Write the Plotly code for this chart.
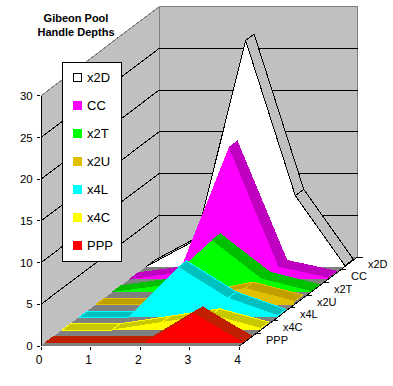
import plotly.graph_objects as go

TITLE = "Gibeon Pool<br>Handle Depths"
divisions = [0, 1, 2, 3, 4]
quantity_ticks = [0, 5, 10, 15, 20, 25, 30]
grid_levels = [5, 10, 15, 20, 25]

# front to back
types = ["PPP", "x4C", "x4L", "x2U", "x2T", "CC", "x2D"]
PPP = [0, 0, 0, 3.55, 0]
x4C = [0, 0, 0.9, 1.8, 0.2]
x4L = [0, 0, 6.0, 2.3, 0.2]
x2U = [0, 0, 0.8, 1.95, 0.4]
x2T = [0, 0.8, 6.2, 1.6, 0.1]
CC = [0, 0.8, 15.8, 1.5, 0.2]
x2D = [0, 3.2, 27.1, 8.5, 0.1]
series_values = [PPP, x4C, x4L, x2U, x2T, CC, x2D]

face_colors = ["#ff0000", "#ffff00", "#00ffff", "#e0c000", "#00ff00", "#ff00ff", "#ffffff"]
top_colors = ["#c02000", "#c8c800", "#00c0c0", "#c0a000", "#00c000", "#c000c0", "#c0c0c0"]
top_edges = ["#c02000", "#ffff00", "#00ffff", "#e0c000", "#00c000", "#c000c0", "#000000"]

W, H = 393, 386
L, B = 41, 40
PX_X, PX_Y = 49.65, 8.34           # pixels per data unit
DEPTH_X, DEPTH_Y = 118 / PX_X, 89 / PX_Y   # full-depth shear in data units
FRONT, BACK = 0.25, 0.75           # ribbon position inside its depth slot
N = len(types)


def proj(x, y, d):
    return x + DEPTH_X * d, y + DEPTH_Y * d


def path(points):
    xs, ys = [], []
    for p in points:
        if p is None:
            xs.append(None)
            ys.append(None)
        else:
            a, b = proj(*p)
            xs.append(a)
            ys.append(b)
    return xs, ys


fig = go.Figure()


def poly(points, fill, line=None, width=1):
    xs, ys = path(points)
    fig.add_trace(go.Scatter(
        x=xs, y=ys, mode="lines", fill="toself", fillcolor=fill,
        line=dict(color=line or fill, width=width if line else 0),
        hoverinfo="skip", showlegend=False, cliponaxis=False))


def stroke(points, color="#000000", width=1):
    xs, ys = path(points)
    fig.add_trace(go.Scatter(
        x=xs, y=ys, mode="lines", line=dict(color=color, width=width),
        hoverinfo="skip", showlegend=False, cliponaxis=False))


x0, x1 = divisions[0], divisions[-1]
ymax = quantity_ticks[-1]

# walls and floor
poly([(x0, 0, 0), (x0, ymax, 0), (x0, ymax, 1), (x0, 0, 1)], "#c0c0c0")
poly([(x0, 0, 1), (x0, ymax, 1), (x1, ymax, 1), (x1, 0, 1)], "#c0c0c0")
poly([(x0, 0, 0), (x1, 0, 0), (x1, 0, 1), (x0, 0, 1)], "#808080")
stroke([(x0, ymax, 0), (x0, ymax, 1), (x1, ymax, 1), (x1, 0, 1)], "#808080")
stroke([(x0, ymax, 1), (x0, 0, 1)], "#808080")
for v in grid_levels:
    stroke([(x0, v, 0), (x0, v, 1), (x1, v, 1)])

# series, back to front
for i in reversed(range(N)):
    vals = series_values[i]
    df, db = (i + FRONT) / N, (i + BACK) / N
    quads = []
    for j in range(len(divisions) - 1):
        rise_px = (vals[j + 1] - vals[j]) * PX_Y / PX_X
        if rise_px > DEPTH_Y * PX_Y / (DEPTH_X * PX_X):
            continue  # top surface faces away from the viewer
        a, b = divisions[j], divisions[j + 1]
        quads += [(a, vals[j], df), (b, vals[j + 1], df), (b, vals[j + 1], db), (a, vals[j], db), (a, vals[j], df), None]
    poly(quads[:-1], top_colors[i], top_edges[i])
    poly([(x0, 0, df)] + [(d, v, df) for d, v in zip(divisions, vals)] + [(x1, 0, df)], face_colors[i])
    if types[i] == "x2D":
        stroke([(d, v, df) for d, v in zip(divisions, vals)])

# axis lines
stroke([(x0, ymax, 0), (x0, 0, 0), (x1, 0, 0), (x1, 0, 1)])
# depth ticks
tick_len = 5 / PX_X
for i in range(N + 1):
    tx, ty = proj(x1, 0, i / N)
    fig.add_trace(go.Scatter(x=[tx, tx + tick_len], y=[ty, ty], mode="lines",
                             line=dict(color="#000000", width=1), hoverinfo="skip",
                             showlegend=False, cliponaxis=False))

annotations = []


def px_x(p):
    return (p - L) / PX_X


def px_y(p):
    return (H - B - p) / PX_Y


def label(text, px, py, size=11, bold=False, angle=0, xanchor="center"):
    annotations.append(dict(
        text=f"<b>{text}</b>" if bold else text, x=px_x(px), y=px_y(py), xref="x", yref="y",
        showarrow=False, xanchor=xanchor, yanchor="middle", textangle=angle,
        font=dict(family="Liberation Sans, Arial, sans-serif", size=size, color="#000000"),
    ))


# depth labels
for i, t in enumerate(types):
    label(t, 263.5 + 17.0 * i, 339.7 - 12.65 * i, size=11, xanchor="left")

label("Quantity", 10, 220, bold=True, angle=-90)
label("Division", 138, 375.5, bold=True)
label("Type", 350, 349, bold=True)

# legend
shapes = [dict(type="rect", xref="x", yref="y", x0=px_x(62.5), x1=px_x(121.5), y0=px_y(62.5), y1=px_y(261.5),
               fillcolor="#ffffff", line=dict(color="#000000", width=1), layer="above")]
for k, i in enumerate(reversed(range(N))):
    cy = 77.3 + 28.1 * k
    shapes.append(dict(type="rect", xref="x", yref="y", x0=px_x(73.5), x1=px_x(81.5), y0=px_y(cy - 4), y1=px_y(cy + 4),
                       fillcolor=face_colors[i],
                       line=dict(color="#000000" if types[i] == "x2D" else face_colors[i], width=1), layer="above"))
    label(types[i], 84.5, cy, size=13, xanchor="left")

fig.update_layout(
    width=W, height=H, autosize=False,
    margin=dict(l=L, r=0, t=0, b=B, pad=0),
    paper_bgcolor="#ffffff", plot_bgcolor="#ffffff",
    showlegend=False,
    font=dict(family="Liberation Sans, Arial, sans-serif", size=11, color="#000000"),
    title=dict(text=f"<b>{TITLE.replace('<br>', '</b><br><b>')}</b>", x=76 / W, xanchor="center",
               y=1 - 21.5 / H, yanchor="middle", font=dict(size=11, color="#000000")),
    xaxis=dict(range=[0, (W - L) / PX_X], tickvals=divisions, showgrid=False, zeroline=False,
               showline=False, ticks="outside", ticklen=3, tickcolor="#000000", tickfont=dict(size=12),
               ticklabelshift=-2),
    yaxis=dict(range=[0, (H - B) / PX_Y], tickvals=quantity_ticks, showgrid=False, zeroline=False,
               showline=False, ticks="outside", ticklen=3, tickcolor="#000000", tickfont=dict(size=11.5),
               ticklabelstandoff=2),
    annotations=annotations, shapes=shapes,
)

post = """
document.body.style.margin='0';document.body.style.overflow='hidden';
document.querySelectorAll('.scatterlayer path, .shapelayer path, .xtick path, .ytick path, .crisp').forEach(function(p){p.style.shapeRendering='crispEdges';});
"""
fig.write_html("out.html", post_script=post, config={"displayModeBar": False})
